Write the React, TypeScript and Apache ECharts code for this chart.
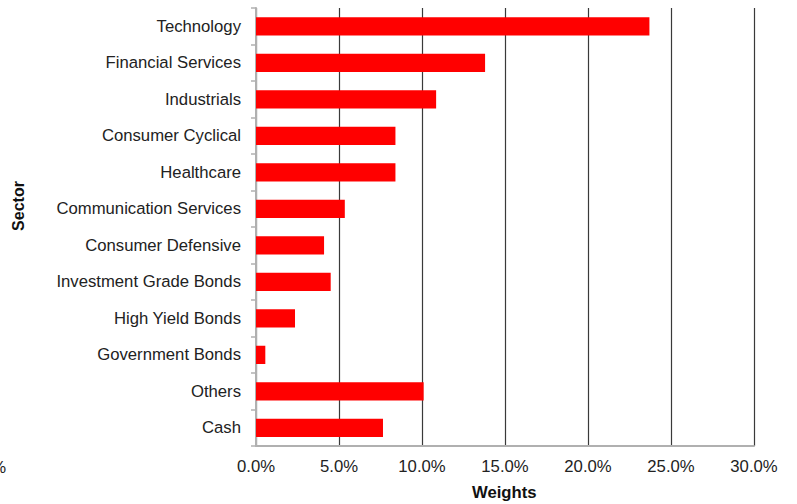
import React, { useEffect, useRef } from "react";
import * as echarts from "echarts";

const categories = [
  "Technology",
  "Financial Services",
  "Industrials",
  "Consumer Cyclical",
  "Healthcare",
  "Communication Services",
  "Consumer Defensive",
  "Investment Grade Bonds",
  "High Yield Bonds",
  "Government Bonds",
  "Others",
  "Cash",
];
const weights = [23.7, 13.8, 10.85, 8.4, 8.4, 5.35, 4.1, 4.5, 2.35, 0.56, 10.1, 7.65];
const xTicks = { min: 0, max: 30, interval: 5 };

const FONT = "'Liberation Sans', Arial, sans-serif";

export default function App() {
  const ref = useRef<HTMLDivElement>(null);
  useEffect(() => {
    document.body.style.margin = "0";
    const chart = echarts.init(ref.current!, null, { renderer: "svg" });
    chart.setOption({
      animation: false,
      backgroundColor: "#ffffff",
      grid: { left: 256, right: 43, top: 8, bottom: 58, containLabel: false },
      xAxis: {
        type: "value",
        min: xTicks.min,
        max: xTicks.max,
        interval: xTicks.interval,
        axisLine: { show: true, lineStyle: { color: "#b0b0b0", width: 2 } },
        axisTick: { show: false },
        axisLabel: {
          formatter: (v: number) => v.toFixed(1) + "%",
          color: "#222",
          fontFamily: FONT,
          fontSize: 16.7,
          margin: 12,
        },
        splitLine: { show: true, lineStyle: { color: "#3a3a3a", width: 1.2 } },
      },
      yAxis: {
        type: "category",
        data: categories,
        inverse: true,
        axisLine: { show: true, lineStyle: { color: "#b0b0b0", width: 2 } },
        axisTick: { show: true, length: 5, lineStyle: { color: "#b0b0b0", width: 1.5 } },
        axisLabel: {
          color: "#222",
          fontFamily: FONT,
          fontSize: 16.7,
          margin: 15,
        },
        splitLine: { show: false },
      },
      series: [
        {
          type: "bar",
          data: weights,
          barWidth: "50%",
          itemStyle: { color: "#ff0000" },
        },
      ],
      graphic: [
        {
          type: "text",
          left: 472,
          top: 484,
          style: { text: "Weights", font: `bold 16.7px ${FONT}`, fill: "#111" },
        },
        {
          type: "text",
          x: 18,
          y: 206,
          rotation: Math.PI / 2,
          style: {
            text: "Sector",
            font: `bold 16px ${FONT}`,
            fill: "#111",
            align: "center",
            verticalAlign: "middle",
          },
        },
        {
          type: "text",
          x: 6,
          y: 467,
          style: {
            text: "0.0%",
            font: `16.7px ${FONT}`,
            fill: "#222",
            align: "right",
            verticalAlign: "middle",
          },
        },
      ],
    });
    return () => chart.dispose();
  }, []);
  return <div ref={ref} style={{ width: 797, height: 504 }} />;
}
